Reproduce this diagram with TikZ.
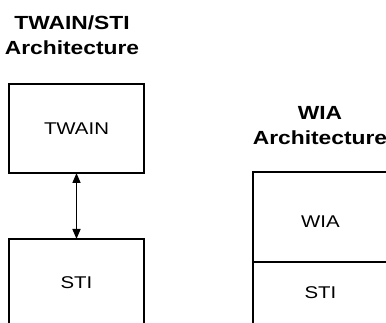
\documentclass[tikz,border=0pt]{standalone}
\usepackage{fontspec}
\setmainfont{Liberation Sans}
\newfontfamily\archfont[FakeStretch=1.2]{Liberation Sans}
\usetikzlibrary{positioning,arrows.meta}

\begin{document}
\begin{tikzpicture}[
    x=1pt, y=-1pt,
    node distance=66pt,
    layer/.style={draw, line width=1.5pt, outer sep=0pt, inner sep=0pt, minimum width=135pt, minimum height=89pt, font=\archfont\fontsize{17}{20}\selectfont},
    heading/.style={align=center, inner sep=0pt, font=\archfont\bfseries\fontsize{19}{25}\selectfont}
]
\useasboundingbox (0,0) rectangle (386,323);
\clip (0,0) rectangle (386,323);

\node[heading] (tshead) at (72,35) {TWAIN/STI\\Architecture};
\node[layer] (twain) at (76.5,128.5) {TWAIN};
\node[layer, minimum height=88pt, below=of twain] (sti) {STI};
\draw[{Triangle[length=10pt,width=8pt]}-{Triangle[length=10pt,width=8pt]}, line width=1.5pt] (twain) -- (sti);

\node[heading] (wiahead) at (320,125.5) {WIA\\Architecture};
\node[layer, minimum height=90pt, text height=22pt, text depth=0pt] (wia) at (320.5,217) {WIA};
\node[layer, minimum height=62pt, below=0pt of wia] (wiasti) {STI};
\end{tikzpicture}
\end{document}
